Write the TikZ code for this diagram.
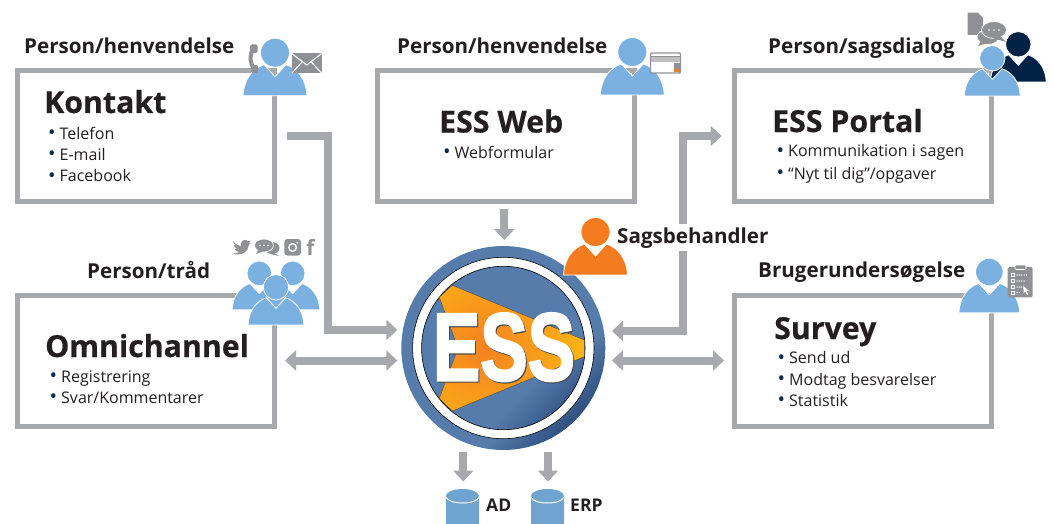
\documentclass[tikz,border=0pt]{standalone}
\usepackage{fontspec}
\setmainfont{Open Sans}
\newfontfamily\ttlfont{Open Sans Bold}[FakeBold=0.5]
\newfontfamily\essfont{Liberation Sans Bold}[FakeBold=2.6]
\usetikzlibrary{arrows.meta,calc}
\definecolor{boxgray}{HTML}{A7A9AC}
\definecolor{ink}{HTML}{231F20}
\definecolor{navy}{HTML}{0B2A4F}
\definecolor{pblue}{HTML}{7AB1E0}
\definecolor{pdark}{HTML}{012244}
\definecolor{porange}{HTML}{F47B20}
\definecolor{icongray}{HTML}{8F9194}
\definecolor{dbblue}{HTML}{6FA3D0}
\definecolor{hubA}{HTML}{567CAC}
\definecolor{hubB}{HTML}{1D3C6C}
\definecolor{orA}{HTML}{F58220}
\definecolor{orB}{HTML}{FDB515}
\pgfdeclareverticalshading{hubshade}{100bp}{color(0bp)=(hubB);color(20bp)=(hubB);color(36bp)=(hubA);color(100bp)=(hubA)}
\pgfdeclareverticalshading{hubinner}{100bp}{color(0bp)=(hubB);color(14bp)=(hubB);color(36bp)=(hubA);color(100bp)=(hubA)}
\tikzset{
  boxnode/.style={draw=boxgray,line width=5pt,fill=white,rectangle,inner sep=0pt,minimum width=257pt,minimum height=131pt},
  arr/.style={draw=boxgray,line width=8pt,-{Triangle[length=11pt,width=20pt]}},
  arrb/.style={draw=boxgray,line width=8pt,{Triangle[length=11pt,width=20pt]}-{Triangle[length=11pt,width=20pt]}},
  toplabel/.style={anchor=base west,inner sep=0pt,text=ink,font=\fontsize{20.6}{22}\selectfont\bfseries},
  dblabel/.style={anchor=base west,inner sep=0pt,text=ink,font=\fontsize{17.5}{20}\selectfont\bfseries},
  boxtitle/.style={anchor=base west,inner sep=0pt,text=ink,font=\fontsize{30.3}{32}\ttlfont},
  itemline/.style={anchor=base west,inner sep=0pt,text=ink,font=\fontsize{16}{18}\selectfont},
  pics/personicon/.style={code={
    \fill[#1,draw=white,line width=.8pt] (-32,43) .. controls (-31,26) and (-22,15.5) .. (-11,12) -- (0,24) -- (11,12) .. controls (22,15.5) and (31,26) .. (32,43) -- cycle;
    \fill[#1,draw=white,line width=.8pt] (0,0) circle (14.5);
  }},
  pics/dbicon/.style={code={
    \fill[dbblue] (-16.5,0) arc[start angle=180,end angle=0,x radius=16.5,y radius=-7] -- (16.5,27.5) arc[start angle=0,end angle=180,x radius=16.5,y radius=7] -- cycle;
    \draw[white,line width=1pt] (-16.5,1) .. controls (-14,9) and (14,9) .. (16.5,1);
  }},
}
\newcommand{\itm}[1]{\makebox[11.5pt][l]{\textcolor{navy}{\raisebox{-.6pt}{\scalebox{1.25}{•}}}}#1}
\begin{document}
\begin{tikzpicture}[x=1pt,y=-1pt]
\useasboundingbox (0,0) rectangle (1054,524);
% boxes
\node[boxnode] (kontakt) at (146,136) {};
\node[boxnode] (web) at (506,136) {};
\node[boxnode] (portal) at (863,136) {};
\node[boxnode] (omni) at (146,360.5) {};
\node[boxnode] (survey) at (863,360.5) {};
% hub
\node[circle,minimum size=204pt,inner sep=0pt,shading=hubshade,shading angle=45] (ess) at (503.3,348) {};
\fill[white,draw=black,line width=.6pt] (ess.center) circle (90.7);
\shade[shading=hubinner,shading angle=45,draw=black,line width=.6pt] (ess.center) circle (81.7);
\begin{scope}
\clip (452.3,285.3) -- (439.3,297.3) -- (458,348) -- (439.3,398.3) -- (452.3,411) -- (584.3,356.7) -- (584.3,340) -- cycle;
\shade[inner color=orA,outer color=orB] (485,348) circle (100);
\end{scope}
\draw[black!70,line width=.4pt] (452.3,285.3) -- (439.3,297.3) -- (458,348) -- (439.3,398.3) -- (452.3,411) -- (584.3,356.7) -- (584.3,340) -- cycle;
\node[inner sep=0pt,text=black!70] at (505,348.4) {\scalebox{.74}[1]{\fontsize{96}{96}\essfont ESS}};
\node[inner sep=0pt,text=white] (esstext) at (504,347.2) {\scalebox{.74}[1]{\fontsize{96}{96}\essfont ESS}};
% arrows
\draw[arr] ([xshift=10pt]kontakt.east) -- ++(41.3,0) |- ([shift={(-106,-18)}]ess.center);
\draw[arrb] ([xshift=8pt]omni.east) -- ([shift={(-106,12.5)}]ess.center);
\draw[arr] ([xshift=-1.7pt,yshift=-5pt]web.south) -- ([shift={(1,-108)}]ess.center);
\draw[arrb] ([shift={(108.7,-17)}]ess.center) -| ([xshift=-49pt]portal.west) -- ([xshift=-10.5pt]portal.west);
\draw[arrb] ([shift={(108.7,12.5)}]ess.center) -- ([xshift=-8pt]survey.west);
\coordinate (adtop) at (463.3,451.5);
\coordinate (erptop) at (548,451.5);
\pic at (462.5,496) {dbicon};
\pic at (547.5,496) {dbicon};
\node[inner sep=0pt] (adnode) at (462.5,496) {};
\node[inner sep=0pt] (erpnode) at (547.5,496) {};
\draw[arr] (adtop) -- ([shift={(.8,-14.5)}]adnode.center);
\draw[arr] (erptop) -- ([shift={(.5,-14.5)}]erpnode.center);
\node[dblabel] (adlabel) at (486,511) {AD};
\node[dblabel] (erplabel) at (570,511) {ERP};
% labels
\node[toplabel] (l1) at (24,54) {Person/henvendelse};
\node[toplabel] (l2) at (397,54) {Person/henvendelse};
\node[toplabel] (l3) at (768,54) {Person/sagsdialog};
\node[toplabel] (l4) at (87,278) {Person/tråd};
\node[toplabel] (l5) at (758,277) {Brugerundersøgelse};
\node[toplabel,fill=white,inner xsep=1pt,inner ysep=3pt] (l6) at (616,243) {Sagsbehandler};
% box text
\node[boxtitle] (t1) at (44,113) {Kontakt};
\node[itemline] at (48,139.3) {\itm{Telefon}};
\node[itemline] at (48,160.3) {\itm{E-mail}};
\node[itemline] at (48,181.7) {\itm{Facebook}};
\node[boxtitle] (t2) at (439,132.5) {ESS Web};
\node[itemline] at (443,158) {\itm{Webformular}};
\node[boxtitle] (t3) at (772,132) {ESS Portal};
\node[itemline] at (776.5,156.7) {\itm{Kommunikation i sagen}};
\node[itemline] at (776.5,179) {\itm{“Nyt til dig”/opgaver}};
\node[boxtitle] (t4) at (45,357) {Omnichannel};
\node[itemline] at (49.5,382) {\itm{Registrering}};
\node[itemline] at (49.5,403) {\itm{Svar/Kommentarer}};
\node[boxtitle] (t5) at (774,339) {Survey};
\node[itemline] at (777.5,363.5) {\itm{Send ud}};
\node[itemline] at (777.5,385) {\itm{Modtag besvarelser}};
\node[itemline] at (777.5,406) {\itm{Statistik}};
% persons
\pic at (275,52.7) {personicon=pblue};
\pic at (632.3,52) {personicon=pblue};
\pic[scale=.875] at (1018.3,44.3) {personicon=pdark};
\pic[scale=.875] at (992.3,58.3) {personicon=pblue};
\pic[scale=.85] at (259.3,273.3) {personicon=pblue};
\pic[scale=.85] at (292.7,273.3) {personicon=pblue};
\pic[scale=.875] at (276,287.3) {personicon=pblue};
\pic[scale=.95] at (989.3,272) {personicon=pblue};
\pic at (595.5,232) {personicon=porange};
% phone
\draw[icongray,line width=4pt] (253,49) .. controls (249,56) and (250,63) .. (254,69);
\fill[icongray,rounded corners=1.5pt] (250,44.5) rectangle (257.5,53);
\fill[icongray,rounded corners=1.5pt] (251,65) rectangle (258,73);
% envelope
\fill[icongray] (291.7,53.5) rectangle (321.7,73.3);
\draw[white,line width=1.1pt] (291.7,53.5) -- (306.7,65) -- (321.7,53.5) (291.7,73.3) -- (302,62) (321.7,73.3) -- (311.4,62);
% browser
\draw[icongray,fill=white,line width=1.2pt,rounded corners=1pt] (650.5,53) rectangle (680.5,73);
\fill[black!25] (651.2,57.5) rectangle (679.8,62.5);
\fill[icongray] (673.5,63) rectangle (679.8,69);
\fill[porange] (673.5,69) rectangle (679.8,72.3);
\draw[icongray,line width=.6pt] (651,56.5) -- (680,56.5);
% document and bubbles
\fill[icongray] (967.7,12.7) -- (978,12.7) -- (983,18) -- (983,35) -- (967.7,35) -- cycle;
\fill[white] (979,12.7) -- (983,12.7) -- (983,17) -- cycle;
\fill[icongray,draw=white,line width=.8pt] (988,37) ellipse (11 and 7.5);
\fill[icongray] (981,41) -- (978,46) -- (988,43) -- cycle;
\fill[icongray,draw=white,line width=.8pt] (994,30) ellipse (12.5 and 8.5);
\fill[icongray] (1000,36) -- (1006,42) -- (992,38) -- cycle;
\fill[white] (989,30) circle (.9) (994,30) circle (.9) (999,30) circle (.9);
% twitter
\fill[icongray] (233,241) .. controls (236,245) and (239,246) .. (241,246) .. controls (240,241) and (245,238) .. (248,241) -- (250.5,240.5) -- (249,243) -- (250.5,243) -- (249,244.5) .. controls (249,251) and (241,257) .. (233,253.5) .. controls (236,253.5) and (238,253) .. (239,252) .. controls (236,251.5) and (235,250) .. (235,249) -- (237,249) .. controls (235,248) and (234,246) .. (234,245) -- (236,245.5) .. controls (234,244) and (233,243) .. (233,241) -- cycle;
% chat
\fill[icongray] (272,248) ellipse (7.5 and 6);
\fill[icongray] (274,253) -- (279,256) -- (270,254) -- cycle;
\fill[icongray,draw=white,line width=.7pt] (264,245.5) ellipse (9.5 and 6.5);
\fill[icongray] (258,250) -- (256,254) -- (263,251.5) -- cycle;
\fill[white] (260,245.5) circle (.9) (264,245.5) circle (.9) (268,245.5) circle (.9);
% instagram
\fill[icongray,rounded corners=3pt] (284.3,239) rectangle (301,255.5);
\draw[white,line width=1.4pt] (292.6,247.5) circle (3.8);
\fill[white] (297.3,242.7) circle (1);
% f
\node[inner sep=0pt,text=icongray,font=\fontsize{21}{22}\selectfont\bfseries,anchor=base] (fb) at (310.5,255.5) {f};
% clipboard
\fill[icongray,rounded corners=1.5pt] (1007.7,267) rectangle (1032.7,297.3);
\fill[icongray,draw=white,line width=.6pt,rounded corners=1pt] (1015,265) rectangle (1026,269.5);
\foreach \yy/\nn in {275/5,281/4,287/3,292.5/2}{
  \draw[white,line width=.6pt] (1011,\yy-1.7) rectangle (1014.2,\yy+1.5);
  \foreach \k in {1,...,\nn}{\fill[white] ({1014.8+\k*2.3},\yy) circle (.75);}
}
\fill[white,draw=icongray,line width=.3pt] (1023,285) -- (1029.5,291) -- (1027,291.3) -- (1028.7,294.8) -- (1027,295.5) -- (1025.4,292) -- (1023.5,293.5) -- cycle;
\end{tikzpicture}
\end{document}
